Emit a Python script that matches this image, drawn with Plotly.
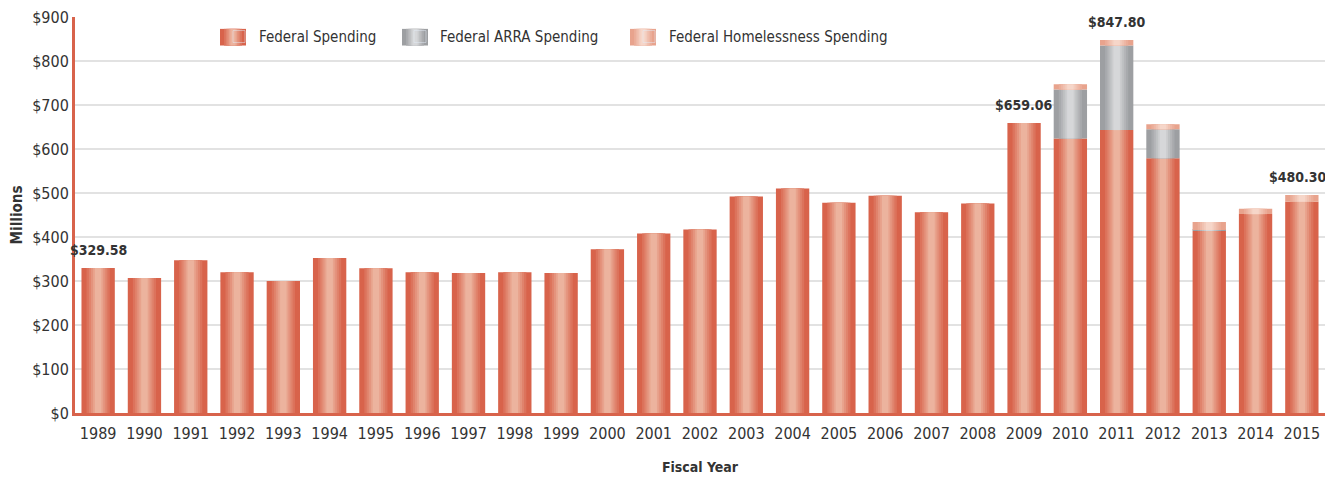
import plotly.graph_objects as go

years = [str(y) for y in range(1989, 2016)]

federal = [329.58, 307, 347, 320, 300, 352, 329, 320, 318, 320, 318,
           372, 408, 417, 492, 510, 478, 494, 456, 476, 659.06,
           624, 643, 579, 414, 452, 480.30]

arra = [0] * 21 + [111, 192.5, 66, 2, 0, 0]

homeless = [0] * 21 + [12, 12.3, 11, 18, 12, 15]

label_years = ["1989", "2009", "2011", "2015"]
label_texts = ["$329.58", "$659.06", "$847.80", "$480.30"]

font_family = "DejaVu Sans Condensed, Liberation Sans Narrow, Roboto, sans-serif"
red = "#D8634B"


def mix(c1, c2, t):
    a = [int(c1[i:i + 2], 16) for i in (1, 3, 5)]
    b = [int(c2[i:i + 2], 16) for i in (1, 3, 5)]
    return "#" + "".join("%02X" % round(a[k] + (b[k] - a[k]) * t) for k in range(3))


# (name, values, dark edge colour, light centre colour, legend, swatch x in paper)
series = [
    ("Federal Spending", federal, "#D8634B", "#ECB39E", "legend", 0.1160),
    ("Federal ARRA Spending", arra, "#9D9FA2", "#D6D7D9", "legend2", 0.2616),
    ("Federal Homelessness Spending", homeless, "#E8A38D", "#F6D6C9", "legend3", 0.4440),
]

# fake the horizontal gradient with nested bars of shrinking width
widths = [0.72, 0.5, 0.4, 0.31, 0.22, 0.14]
sw = 0.0104  # half width of legend swatch (paper)

fig = go.Figure()
base = [0] * len(years)
for name, vals, dark, light, leg, sx in series:
    for i, w in enumerate(widths):
        t = i / (len(widths) - 1)
        col = mix(dark, light, t)
        fig.add_trace(go.Bar(
            x=years, y=vals, base=base, width=w,
            name=name, legendgroup=name, showlegend=False,
            marker=dict(color=col, line=dict(width=0)),
            hoverinfo="skip" if i else None,
        ))
        # gradient legend swatch, same nesting as the bars
        half = sw * w / widths[0]
        fig.add_shape(type="rect", xref="paper", yref="paper",
                      x0=sx + sw - half, x1=sx + sw + half,
                      y0=0.928, y1=0.970, fillcolor=col, line_width=0,
                      layer="above")
    # legend entry (symbol hidden, swatch drawn as shapes above)
    fig.add_trace(go.Bar(x=[None], y=[None], name=name, legend=leg,
                         legendgroup=name, marker_color="rgba(0,0,0,0)"))
    base = [b + v for b, v in zip(base, vals)]

totals = base
for yr, txt in zip(label_years, label_texts):
    idx = years.index(yr)
    # category index: year strings would otherwise be read as numbers
    fig.add_annotation(x=idx, y=totals[idx], text="<b>" + txt + "</b>",
                       showarrow=False, yanchor="bottom", yshift=8,
                       xshift=-4 if idx == len(years) - 1 else 0,
                       font=dict(size=14, color="#333333", family=font_family))

leg_style = dict(orientation="h", yanchor="middle", xanchor="left", y=0.95,
                 bgcolor="rgba(0,0,0,0)", itemwidth=30,
                 font=dict(size=15, color="#333333", family=font_family))

# page body has an 8px margin, so keep the figure inside the window
fig.update_layout(
    barmode="overlay",
    width=1317, height=467,
    margin=dict(l=67, r=0, t=9, b=56),
    paper_bgcolor="white", plot_bgcolor="white",
    font=dict(family=font_family, size=15, color="#333333"),
    legend=dict(leg_style, x=0.1152),
    legend2=dict(leg_style, x=0.2600),
    legend3=dict(leg_style, x=0.4432),
    xaxis=dict(type="category", showline=True, linecolor=red, linewidth=3,
               ticks="", range=[-0.5, len(years) - 0.5], ticklabelstandoff=4,
               title=dict(text="<b>Fiscal Year</b>", standoff=22,
                          font=dict(size=14)),
               tickfont=dict(size=16)),
    yaxis=dict(range=[0, 900], dtick=100, tickprefix="$",
               showline=True, linecolor=red, linewidth=3,
               gridcolor="#E2E2E2", gridwidth=1.5, zeroline=False,
               ticklabeloverflow="allow",
               title=dict(text="<b>Millions</b>", standoff=10,
                          font=dict(size=15)),
               tickfont=dict(size=16)),
)

fig.write_html("out.html")
